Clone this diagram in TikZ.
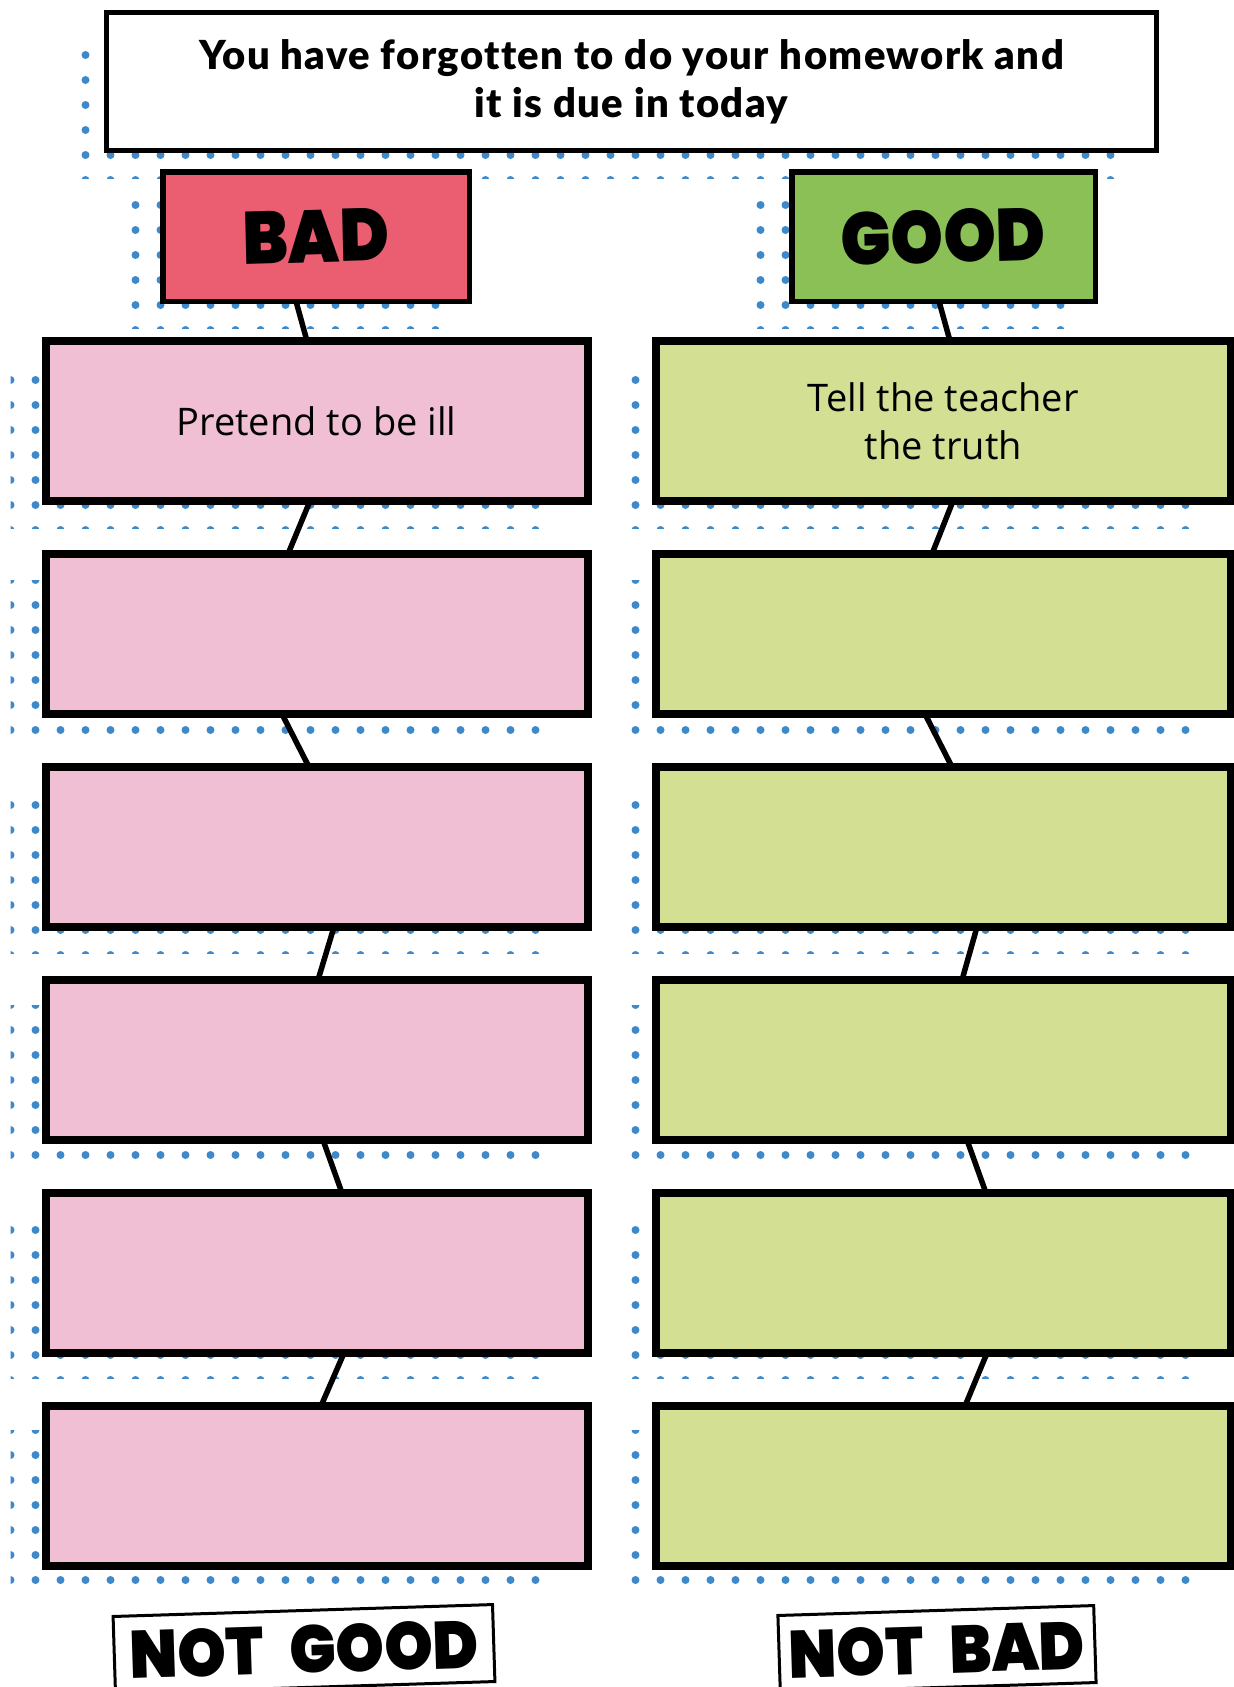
\documentclass[tikz,border=0pt]{standalone}
\usepackage{fontspec}
\setmainfont{Open Sans}
\newfontfamily\titlefont{Lato Black}[LetterSpace=3.5,Ligatures=NoCommon]
\newfontfamily\heavyfont{Poppins Black}
\definecolor{dotblue}{HTML}{3D89C9}
\definecolor{badred}{HTML}{EB5E72}
\definecolor{goodgreen}{HTML}{8BC057}
\definecolor{pinkbox}{HTML}{F0BFD3}
\definecolor{limebox}{HTML}{D3DF93}
\pgfdeclarelayer{dots}
\pgfdeclarelayer{conn}
\pgfsetlayers{dots,conn,main}
% clip x1,y1,x2,y2 ; first dot x, count-1 ; first dot y, count-1
\newcommand{\dotzone}[8]{%
  \begin{scope}
    \clip (#1,#2) rectangle (#3,#4);
    \foreach \i in {0,...,#6}{\foreach \j in {0,...,#8}{%
      \fill[dotblue] (#5+25*\i,#7+25*\j) circle (4);}}
  \end{scope}}
\newcommand{\wobbly}[1]{\scalebox{0.9}[1]{\rotatebox{1.5}{#1}}}
\newcommand{\stamptext}[1]{\scalebox{0.92}[1]{#1}}
\begin{document}
\begin{tikzpicture}[x=1pt,y=-1pt,
  titlebox/.style={draw, line width=5pt, fill=white, inner sep=0pt, outer sep=0pt,
    minimum width=1050pt, minimum height=138pt, align=center,
    font=\titlefont\fontsize{40}{48}\selectfont},
  headbox/.style={draw, line width=5.5pt, inner sep=0pt, outer sep=0pt,
    minimum width=306.5pt, minimum height=129.5pt,
    font=\heavyfont\fontsize{74}{74}\selectfont},
  stepL/.style={draw, line width=8pt, fill=pinkbox, inner sep=0pt, outer sep=0pt,
    minimum width=542pt, minimum height=160pt, align=center,
    font=\fontsize{38}{48}\selectfont},
  stepR/.style={stepL, fill=limebox, minimum width=575.3pt},
  stamp/.style={draw, line width=3pt, fill=white, inner xsep=15pt, inner ysep=14pt,
    text height=49pt, text depth=0pt, rotate=1.8,
    font=\heavyfont\fontsize{67}{67}\selectfont},
  conn/.style={draw=black, line width=5.5pt}]
\useasboundingbox (0,0) rectangle (1234,1687);

\begin{pgfonlayer}{dots}
  \dotzone{80}{50}{1116}{178}{85.5}{41}{55}{5}
  \dotzone{130}{200}{440}{328}{135.5}{12}{205}{5}
  \dotzone{755}{200}{1065}{328}{760.5}{12}{205}{5}
  % left column
  \dotzone{10.5}{372}{540}{528}{10.5}{21}{380}{6}
  \dotzone{10.5}{580}{540}{736}{10.5}{21}{580}{6}
  \dotzone{10.5}{798}{540}{953}{10.5}{21}{805}{6}
  \dotzone{10.5}{1005}{540}{1161}{10.5}{21}{1005}{6}
  \dotzone{10.5}{1224}{540}{1378}{10.5}{21}{1230}{6}
  \dotzone{10.5}{1430}{540}{1586}{10.5}{21}{1430}{6}
  % right column
  \dotzone{630}{372}{1190}{528}{635.5}{22}{380}{6}
  \dotzone{630}{580}{1190}{736}{635.5}{22}{580}{6}
  \dotzone{630}{798}{1190}{953}{635.5}{22}{805}{6}
  \dotzone{630}{1005}{1190}{1161}{635.5}{22}{1005}{6}
  \dotzone{630}{1224}{1190}{1378}{635.5}{22}{1230}{6}
  \dotzone{630}{1430}{1190}{1586}{635.5}{22}{1430}{6}
\end{pgfonlayer}

\node[titlebox] (title) at (631.5,81.5) {You have forgotten to do your homework and\\it is due in today};

\node[headbox, fill=badred] (bad) at (316,236.5) {\wobbly{BAD}};
\node[headbox, fill=goodgreen, minimum width=303.5pt] (good) at (943.5,236.5) {\wobbly{GOOD}};

\node[stepL] (L1) at (316.5,421) {Pretend to be ill};
\node[stepL] (L2) at (316.5,634) {};
\node[stepL] (L3) at (316.5,847) {};
\node[stepL] (L4) at (316.5,1060) {};
\node[stepL] (L5) at (316.5,1273) {};
\node[stepL] (L6) at (316.5,1486) {};

\node[stepR] (R1) at (943.35,421) {Tell the teacher\\the truth};
\node[stepR] (R2) at (943.35,634) {};
\node[stepR] (R3) at (943.35,847) {};
\node[stepR] (R4) at (943.35,1060) {};
\node[stepR] (R5) at (943.35,1273) {};
\node[stepR] (R6) at (943.35,1486) {};

\node[stamp] (notgood) at (304,1649) {\stamptext{NOT\hspace{28pt}GOOD}};
\node[stamp, inner xsep=10pt] (notbad) at (937,1649) {\stamptext{NOT\hspace{28pt}BAD}};

\begin{pgfonlayer}{conn}
  \draw[conn] ([xshift=-20pt]bad.south) -- ([xshift=-9.5pt]L1.north);
  \draw[conn] ([xshift=-6.5pt]L1.south) -- ([xshift=-28.5pt]L2.north);
  \draw[conn] ([xshift=-34.5pt]L2.south) -- ([xshift=-7.5pt]L3.north);
  \draw[conn] ([xshift=17.5pt]L3.south) -- ([xshift=1.5pt]L4.north);
  \draw[conn] ([xshift=6.5pt]L4.south) -- ([xshift=25.5pt]L5.north);
  \draw[conn] ([xshift=27.5pt]L5.south) -- ([xshift=4.5pt]L6.north);
  \draw[conn] ([xshift=-4.5pt]good.south) -- ([xshift=6.65pt]R1.north);
  \draw[conn] ([xshift=9.65pt]R1.south) -- ([xshift=-11.35pt]R2.north);
  \draw[conn] ([xshift=-18.35pt]R2.south) -- ([xshift=8.65pt]R3.north);
  \draw[conn] ([xshift=33.65pt]R3.south) -- ([xshift=18.65pt]R4.north);
  \draw[conn] ([xshift=23.65pt]R4.south) -- ([xshift=42.65pt]R5.north);
  \draw[conn] ([xshift=43.65pt]R5.south) -- ([xshift=21.65pt]R6.north);
\end{pgfonlayer}
\end{tikzpicture}
\end{document}
